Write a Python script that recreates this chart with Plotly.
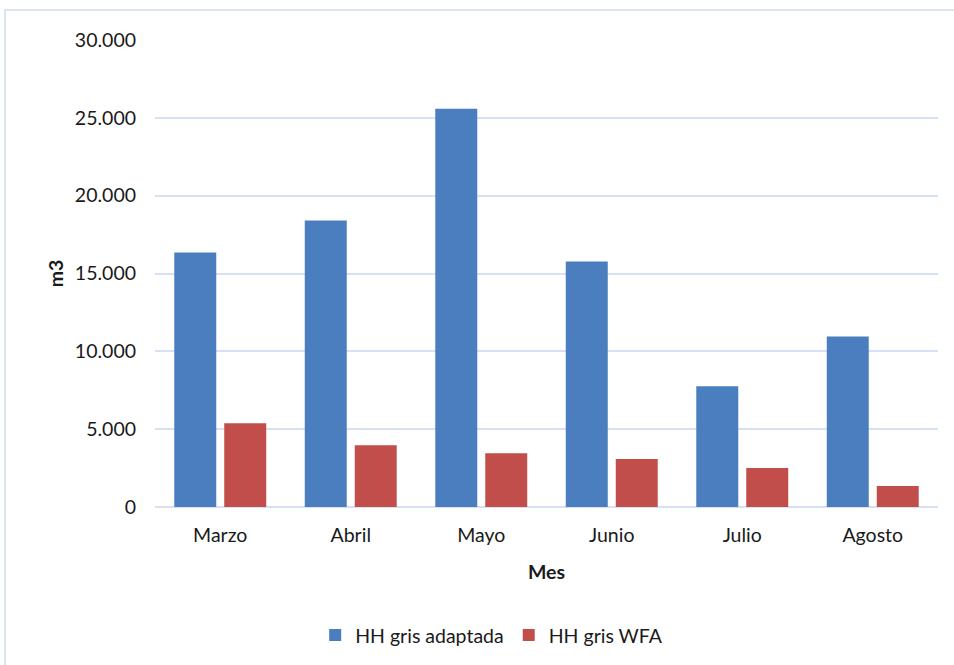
import plotly.graph_objects as go

# Monthly grey water footprint (m3)
meses = ["Marzo", "Abril", "Mayo", "Junio", "Julio", "Agosto"]
hh_gris_adaptada = [16350, 18400, 25580, 15770, 7760, 10960]
hh_gris_wfa = [5380, 3970, 3460, 3080, 2500, 1350]
y_ticks = [0, 5000, 10000, 15000, 20000, 25000, 30000]

FONT = "Lato, Carlito, Calibri, sans-serif"
GRID = "#d6e2f3"

fig = go.Figure()
fig.add_trace(go.Bar(
    name="HH gris adaptada", x=meses, y=hh_gris_adaptada,
    marker=dict(color="#4a7ebf", line=dict(width=0)),
))
fig.add_trace(go.Bar(
    name="HH gris WFA", x=meses, y=hh_gris_wfa,
    marker=dict(color="#c24e4b", line=dict(width=0)),
))

fig.update_layout(
    width=954, height=665,
    margin=dict(l=155, r=16, t=40, b=157),
    paper_bgcolor="white", plot_bgcolor="white",
    font=dict(family=FONT, size=19.5, color="#1a1a1a"),
    separators=",.",
    barmode="group", bargap=0.234, bargroupgap=0.16,
    showlegend=True,
    legend=dict(
        orientation="h", x=0.43, xanchor="center", y=-0.272, yanchor="middle",
        font=dict(size=19.5), itemwidth=30, tracegroupgap=0,
    ),
    shapes=[dict(
        type="rect", xref="paper", yref="paper",
        x0=-0.1916, x1=1.2, y0=-0.5, y1=1.064,
        line=dict(color="#dbe5f1", width=2), fillcolor="rgba(0,0,0,0)", layer="below",
    )],
)

fig.update_yaxes(
    range=[0, 30000], tickvals=y_ticks, tickformat=",d",
    showgrid=True, gridcolor=GRID, gridwidth=2,
    zeroline=True, zerolinecolor=GRID, zerolinewidth=2,
    showline=False, ticks="", ticklabelstandoff=18,
    title=dict(text="<b>m3</b>", font=dict(size=19.5), standoff=6),
)
fig.update_xaxes(
    showgrid=False, showline=False, ticks="", ticklabelstandoff=14,
    title=dict(text="<b>Mes</b>", font=dict(size=19.5), standoff=20),
)

fig.write_html("out.html")
